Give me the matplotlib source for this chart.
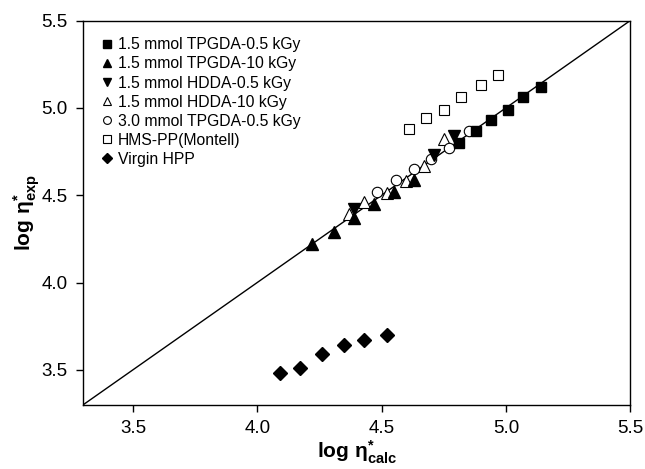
import matplotlib
matplotlib.use("Agg")
import matplotlib.pyplot as plt

plt.rcParams['font.family'] = ['Liberation Sans', 'DejaVu Sans']
plt.rcParams['mathtext.fontset'] = 'custom'
plt.rcParams['mathtext.rm'] = 'Liberation Sans'
plt.rcParams['mathtext.bf'] = 'Liberation Sans:bold'
plt.rcParams['mathtext.it'] = 'Liberation Sans:italic'

# Data (log eta*_calc, log eta*_exp)
tpgda05_x = [4.81, 4.88, 4.94, 5.01, 5.07, 5.14]
tpgda05_y = [4.80, 4.87, 4.93, 4.99, 5.06, 5.12]

tpgda10_x = [4.22, 4.31, 4.39, 4.47, 4.55, 4.63]
tpgda10_y = [4.22, 4.29, 4.37, 4.45, 4.52, 4.59]

hdda05_x = [4.39, 4.71, 4.79]
hdda05_y = [4.42, 4.73, 4.84]

hdda10_x = [4.37, 4.43, 4.52, 4.60, 4.67, 4.75]
hdda10_y = [4.39, 4.46, 4.51, 4.58, 4.67, 4.82]

tpgda3_x = [4.48, 4.56, 4.63, 4.70, 4.77, 4.85]
tpgda3_y = [4.52, 4.59, 4.65, 4.71, 4.77, 4.87]

hms_x = [4.61, 4.68, 4.75, 4.82, 4.90, 4.97]
hms_y = [4.88, 4.94, 4.99, 5.06, 5.13, 5.19]

virgin_x = [4.09, 4.17, 4.26, 4.35, 4.43, 4.52]
virgin_y = [3.48, 3.51, 3.59, 3.64, 3.67, 3.70]

labels = ["1.5 mmol TPGDA-0.5 kGy", "1.5 mmol TPGDA-10 kGy", "1.5 mmol HDDA-0.5 kGy",
          "1.5 mmol HDDA-10 kGy", "3.0 mmol TPGDA-0.5 kGy", "HMS-PP(Montell)", "Virgin HPP"]

line_x = [3.3, 5.5]
xlim = (3.3, 5.5)
ylim = (3.3, 5.5)
xticks = [3.5, 4.0, 4.5, 5.0, 5.5]
yticks = [3.5, 4.0, 4.5, 5.0, 5.5]

fig = plt.figure(figsize=(6.45, 4.69), dpi=100)
ax = fig.add_axes([0.129, 0.137, 0.848, 0.819])

ax.plot(line_x, line_x, color='black', lw=1.0, zorder=1)

ms = 7
ax.plot(tpgda05_x, tpgda05_y, 's', color='black', ms=ms, mec='black', ls='none', label=labels[0], zorder=3)
ax.plot(tpgda10_x, tpgda10_y, '^', color='black', ms=ms+1, mec='black', ls='none', label=labels[1], zorder=3)
ax.plot(hdda05_x, hdda05_y, 'v', color='black', ms=ms+1, mec='black', ls='none', label=labels[2], zorder=3)
ax.plot(hdda10_x, hdda10_y, '^', mfc='white', mec='black', mew=0.8, ms=ms+1, ls='none', label=labels[3], zorder=2)
ax.plot(tpgda3_x, tpgda3_y, 'o', mfc='white', mec='black', mew=0.8, ms=ms+0.5, ls='none', label=labels[4], zorder=2)
ax.plot(hms_x, hms_y, 's', mfc='white', mec='black', mew=0.8, ms=ms, ls='none', label=labels[5], zorder=2)
ax.plot(virgin_x, virgin_y, 'D', color='black', mec='black', ms=ms, ls='none', label=labels[6], zorder=3)

ax.set_xlim(*xlim)
ax.set_ylim(*ylim)
ax.set_xticks(xticks)
ax.set_yticks(yticks)
ax.set_xticklabels([f"{t:.1f}" for t in xticks])
ax.set_yticklabels([f"{t:.1f}" for t in yticks])
ax.tick_params(direction='out', length=5, width=1, labelsize=13.5, top=False, right=False, pad=6)
for s in ax.spines.values():
    s.set_linewidth(1.0)

ax.set_xlabel(r'$\mathbf{log\ \eta^{*}_{calc}}$', fontsize=15, labelpad=1)
ax.set_ylabel(r'$\mathbf{log\ \eta^{*}_{exp}}$', fontsize=15, labelpad=0)

leg = ax.legend(loc='upper left', frameon=False, fontsize=11.3, markerscale=0.75,
                handlelength=0.6, handletextpad=0.4, labelspacing=0.26,
                borderaxespad=0.3, bbox_to_anchor=(0.015, 0.985))

fig.savefig("out.png", dpi=100)
